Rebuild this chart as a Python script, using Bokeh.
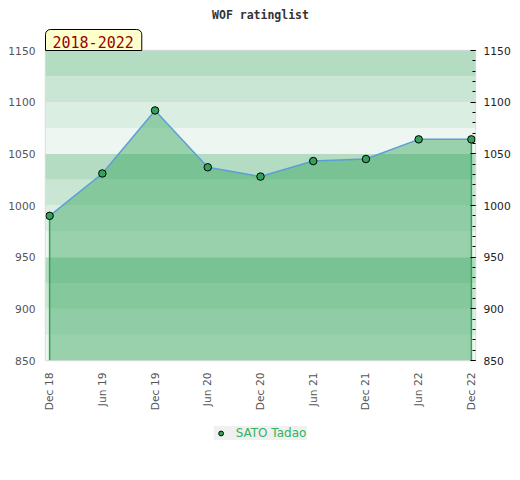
from bokeh.plotting import figure
from bokeh.layouts import column
from bokeh.models import (Range1d, LinearAxis, FixedTicker, BoxAnnotation, Title,
                          Legend, LegendItem, ColumnDataSource)
from bokeh.embed import file_html
from bokeh.resources import INLINE

# ---- data ----
periods = ["Dec 18", "Jun 19", "Dec 19", "Jun 20", "Dec 20", "Jun 21", "Dec 21", "Jun 22", "Dec 22"]
ratings = [990, 1031, 1092, 1037, 1028, 1043, 1045, 1064, 1064]
player = "SATO Tadao"
chart_title = "WOF ratinglist"
span_label = "2018-2022"
y_ticks = [850, 900, 950, 1000, 1050, 1100, 1150]
y_minor = list(range(850, 1151, 10))
band_edges = list(range(850, 1151, 25))
band_colors = ["#eef6f1", "#dbeee2", "#c8e6d3", "#b3dcc3"]  # repeating from bottom

x = list(range(len(periods)))
y_min, y_max = 850, 1150
pad = 0.078
src = ColumnDataSource(dict(x=x, y=ratings))

p = figure(frame_width=430, frame_height=310, output_backend="svg", toolbar_location=None,
           x_range=Range1d(-pad, len(periods) - 1 + pad), y_range=Range1d(y_min, y_max),
           min_border_left=45, min_border_right=45, min_border_top=50, min_border_bottom=60,
           background_fill_color="white", border_fill_color="white", title=None)
p.outline_line_color = "#dddddd"
p.outline_line_width = 1.5
p.xgrid.visible = False
p.ygrid.visible = False

# background bands
for i in range(len(band_edges) - 1):
    p.add_layout(BoxAnnotation(bottom=band_edges[i], top=band_edges[i + 1],
                               fill_color=band_colors[i % 4], fill_alpha=1.0,
                               line_color=None, level="underlay"))

# area
p.varea(x=x, y1=[y_min] * len(x), y2=ratings, fill_color="#2fa156", fill_alpha=0.44)
p.segment(x0=[x[0], x[-1]], y0=[y_min, y_min], x1=[x[0], x[-1]], y1=[ratings[0], ratings[-1]],
          line_color="#2ea553", line_width=1.5)
p.line("x", "y", source=src, line_color="#5b9fd6", line_width=1.5)
p.scatter("x", "y", source=src, size=7.5, fill_color="#33a25a", line_color="black", line_width=1)

# axes
font = "DejaVu Sans"
xa = p.xaxis[0]
xa.ticker = FixedTicker(ticks=x)
xa.major_label_overrides = {i: s for i, s in enumerate(periods)}
xa.major_label_orientation = 3.14159265 / 2
xa.major_tick_out = 0
xa.major_tick_in = 0
xa.minor_tick_out = 0
xa.minor_tick_in = 0
xa.axis_line_color = None
xa.major_label_standoff = 12
xa.major_label_text_font = font
xa.major_label_text_font_size = "10.7px"
xa.major_label_text_color = "#555555"

ya = p.yaxis[0]
ya.ticker = FixedTicker(ticks=y_ticks)
ya.major_tick_out = 0
ya.major_tick_in = 0
ya.minor_tick_out = 0
ya.minor_tick_in = 0
ya.axis_line_color = None
ya.major_label_standoff = 10
ya.major_label_text_font = font
ya.major_label_text_font_size = "10.7px"
ya.major_label_text_color = "#555555"

ra = LinearAxis(ticker=FixedTicker(ticks=y_ticks, minor_ticks=y_minor))
ra.major_tick_out = 0
ra.major_tick_in = 5
ra.minor_tick_out = 0
ra.minor_tick_in = 3
ra.major_tick_line_color = "black"
ra.minor_tick_line_color = "black"
ra.axis_line_color = None
ra.major_label_standoff = 8
ra.major_label_text_font = font
ra.major_label_text_font_size = "10.7px"
ra.major_label_text_color = "#222222"
p.add_layout(ra, "right")

# period label box (closest to frame), then main title
p.add_layout(Title(text=span_label, align="left", offset=0, standoff=0,
                   text_font="DejaVu Sans Mono", text_font_size="15px", text_font_style="normal",
                   text_color="#990000",
                   background_fill_color="#ffffcc", border_line_color="black", border_line_width=1,
                   padding=dict(left=7, right=8, top=6, bottom=3),
                   border_radius=dict(top_left=5, top_right=5, bottom_right=0, bottom_left=0)),
             "above")
p.add_layout(Title(text=chart_title, align="center", standoff=11,
                   text_font="DejaVu Sans Mono", text_font_style="bold",
                   text_font_size="11.5px", text_color="#333333"), "above")

# legend strip below the chart
lg = figure(width=520, height=60, output_backend="svg", toolbar_location=None,
            x_range=Range1d(100, 101), y_range=Range1d(0, 1), title=None,
            min_border_left=0, min_border_right=0, min_border_top=0, min_border_bottom=0,
            background_fill_color="white", border_fill_color="white")
lg.axis.visible = False
lg.grid.visible = False
lg.outline_line_color = None
lpts = lg.scatter("x", "y", source=src, size=7.5, fill_color="#33a25a", line_color="black", line_width=1)
legend = Legend(items=[LegendItem(label=player, renderers=[lpts])], location="top_center",
                orientation="horizontal", background_fill_color="#f0f0f0", background_fill_alpha=1,
                border_line_color=None, padding=7, spacing=0, margin=6,
                glyph_width=14, glyph_height=12, label_height=12, label_standoff=8,
                label_text_font=font, label_text_font_size="12px", label_text_color="#35b35f")
lg.add_layout(legend, "center")

open("out.html", "w").write(file_html(column(p, lg, spacing=0), INLINE))
